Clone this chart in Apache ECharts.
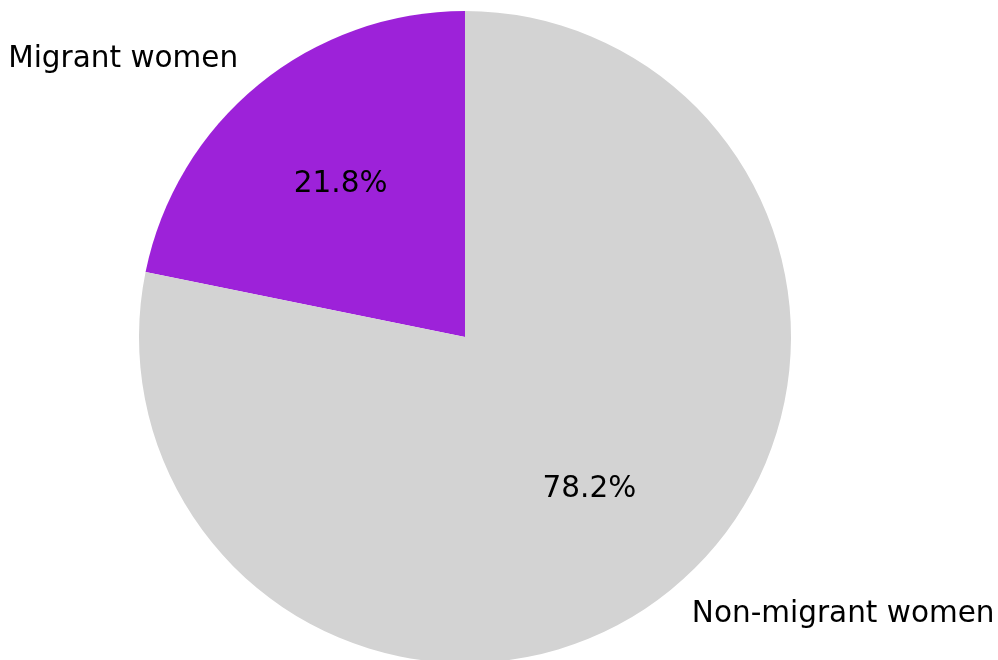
<!DOCTYPE html>
<html>
<head>
<meta charset="utf-8">
<script src="https://cdn.jsdelivr.net/npm/echarts@6/dist/echarts.min.js"></script>
<style>
  html, body { margin: 0; padding: 0; background: #fff; }
  #chart { width: 998px; height: 660px; }
</style>
</head>
<body>
<div id="chart"></div>
<script>
const categories = ['Migrant women', 'Non-migrant women']
const shares = [21.8, 78.2]
const colors = ['#9d22d9', '#d3d3d3']

const R = 326
const font = 'DejaVu Sans'
const fontSize = 29.5

const chart = echarts.init(document.getElementById('chart'))
const data = categories.map((name, i) => ({
  name: name,
  value: shares[i],
  itemStyle: { color: colors[i] }
}))

chart.setOption({
  animation: false,
  series: [
    {
      type: 'pie',
      center: [465, 337],
      radius: [0, R],
      startAngle: 90,
      clockwise: false,
      avoidLabelOverlap: false,
      itemStyle: { borderWidth: 0 },
      label: {
        show: true,
        position: 'outside',
        formatter: '{b}',
        color: '#000',
        fontFamily: font,
        fontSize: fontSize,
        distanceToLabelLine: 0
      },
      labelLine: { show: false, length: R * 0.1, length2: 0 },
      emphasis: { disabled: true },
      data: data
    },
    {
      // invisible pie, only here to put the percentages at ~0.6 R
      type: 'pie',
      center: [465, 337],
      radius: [0, R * 1.2 - 4],
      startAngle: 90,
      clockwise: false,
      silent: true,
      avoidLabelOverlap: false,
      itemStyle: { color: 'rgba(0,0,0,0)', borderWidth: 0 },
      label: {
        show: true,
        position: 'inside',
        formatter: p => p.percent.toFixed(1) + '%',
        color: '#000',
        fontFamily: font,
        fontSize: fontSize
      },
      labelLine: { show: false },
      emphasis: { disabled: true },
      data: categories.map((name, i) => ({ name: name, value: shares[i] }))
    }
  ]
})
</script>
</body>
</html>
